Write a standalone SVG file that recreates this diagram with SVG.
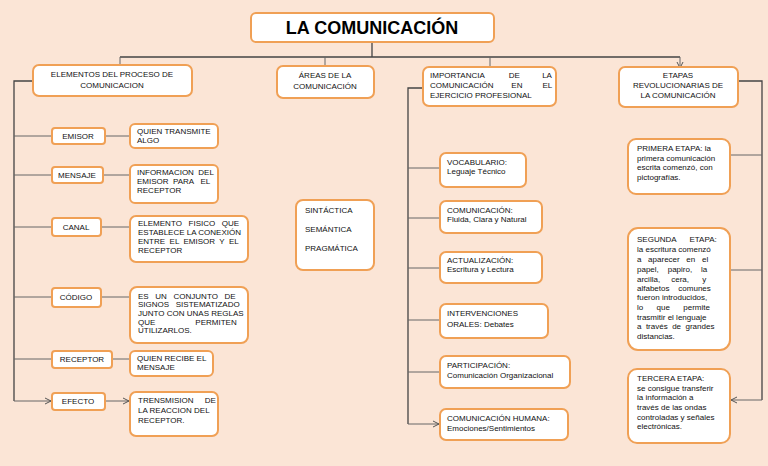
<svg xmlns="http://www.w3.org/2000/svg" width="768" height="466" viewBox="0 0 768 466">
<defs>
<marker id="a" markerWidth="8" markerHeight="8" refX="7" refY="4" orient="auto" markerUnits="userSpaceOnUse"><path d="M1,1 L7,4 L1,7" fill="none" stroke="#555" stroke-width="1"/></marker>
<style>
.b{fill:#fff;stroke:#f0a055;stroke-width:2}
.t{font-family:"Liberation Sans",Arial,sans-serif;font-size:8px;fill:#111;white-space:pre}
.c{stroke:#444;stroke-width:1.3;fill:none}
.ar{stroke:#666;stroke-width:1;fill:none;marker-end:url(#a)}
</style>
</defs>
<rect width="768" height="466" fill="#fbe5d6"/>
<g id="connectors">
<path class="c" d="M372,42V57M120,57H680"/>
<path class="ar" d="M120,57V66M325,57V67M490,57V68M680,57V68"/>
<path class="c" d="M33,81H14V401"/>
<path class="ar" d="M14,136H51M14,175H51M14,227H51M14,297H51M14,359H51M14,401H51"/>
<path class="ar" d="M105,136H129M103,175H129M101,227H129M101,297H129M112,359H129M105,401H129"/>
<path class="c" d="M423,88H408V424"/>
<path class="ar" d="M408,168H439M408,218H439M408,268H439M408,320H439M408,372H439M408,424H439"/>
<path class="c" d="M738,81H762V400"/>
<path class="ar" d="M762,155H731M762,270H731M762,400H731"/>
</g>
<g id="title"><rect class="b" x="251" y="13" width="243" height="29" rx="5"/><text x="372" y="34" text-anchor="middle" font-family="Liberation Sans,Arial,sans-serif" font-weight="bold" font-size="18">LA COMUNICACIÓN</text></g>
<g id="h1"><rect class="b" x="33" y="65" width="159" height="31" rx="6"/><text class="t" text-anchor="middle"><tspan x="112" y="77">ELEMENTOS DEL PROCESO DE</tspan><tspan x="112" y="88">COMUNICACION</tspan></text></g>
<g id="h2"><rect class="b" x="277" y="66" width="97" height="32" rx="6"/><text class="t" text-anchor="middle"><tspan x="325" y="78">ÁREAS DE LA</tspan><tspan x="325" y="89">COMUNICACIÓN</tspan></text></g>
<g id="h3"><rect class="b" x="423" y="67" width="133" height="39" rx="6"/><text class="t" xml:space="preserve"><tspan x="430" y="78">IMPORTANCIA           DE          LA</tspan><tspan x="430" y="88">COMUNICACIÓN        EN         EL</tspan><tspan x="430" y="98">EJERCICIO PROFESIONAL</tspan></text></g>
<g id="h4"><rect class="b" x="619" y="67" width="119" height="40" rx="6"/><text class="t" text-anchor="middle"><tspan x="678" y="78">ETAPAS</tspan><tspan x="678" y="88">REVOLUCIONARIAS DE</tspan><tspan x="678" y="98">LA COMUNICACIÓN</tspan></text></g>
<g id="emisor"><rect class="b" x="52" y="128" width="53" height="16" rx="3"/><text class="t" x="78" y="139" text-anchor="middle">EMISOR</text></g>
<g id="mensaje"><rect class="b" x="52" y="167" width="51" height="16" rx="3"/><text class="t" x="77" y="178" text-anchor="middle">MENSAJE</text></g>
<g id="canal"><rect class="b" x="52" y="218" width="49" height="18" rx="3"/><text class="t" x="76" y="230" text-anchor="middle">CANAL</text></g>
<g id="codigo"><rect class="b" x="52" y="288" width="49" height="19" rx="3"/><text class="t" x="76" y="300" text-anchor="middle">CÓDIGO</text></g>
<g id="receptor"><rect class="b" x="52" y="351" width="60" height="17" rx="3"/><text class="t" x="82" y="362" text-anchor="middle">RECEPTOR</text></g>
<g id="efecto"><rect class="b" x="52" y="393" width="53" height="17" rx="3"/><text class="t" x="78" y="404" text-anchor="middle">EFECTO</text></g>
<g id="d1"><rect class="b" x="130" y="124" width="88" height="24" rx="5"/><text class="t"><tspan x="137" y="134">QUIEN TRANSMITE</tspan><tspan x="137" y="143">ALGO</tspan></text></g>
<g id="d2"><rect class="b" x="130" y="165" width="88" height="38" rx="5"/><text class="t" xml:space="preserve"><tspan x="137" y="175">INFORMACION  DEL</tspan><tspan x="137" y="184">EMISOR  PARA   EL</tspan><tspan x="137" y="193">RECEPTOR</tspan></text></g>
<g id="d3"><rect class="b" x="130" y="216" width="118" height="46" rx="6"/><text class="t" xml:space="preserve"><tspan x="138" y="226">ELEMENTO   FISICO   QUE</tspan><tspan x="138" y="235">ESTABLECE LA CONEXIÓN</tspan><tspan x="138" y="244">ENTRE  EL  EMISOR  Y  EL</tspan><tspan x="138" y="253">RECEPTOR</tspan></text></g>
<g id="d4"><rect class="b" x="130" y="287" width="118" height="56" rx="7"/><text class="t" xml:space="preserve"><tspan x="138" y="299">ES   UN   CONJUNTO   DE</tspan><tspan x="138" y="307">SIGNOS   SISTEMATIZADO</tspan><tspan x="138" y="316">JUNTO CON UNAS REGLAS</tspan><tspan x="138" y="325">QUE                  PERMITEN</tspan><tspan x="138" y="333">UTILIZARLOS.</tspan></text></g>
<g id="d5"><rect class="b" x="130" y="351" width="83" height="25" rx="5"/><text class="t"><tspan x="137" y="361">QUIEN RECIBE EL</tspan><tspan x="137" y="370">MENSAJE</tspan></text></g>
<g id="d6"><rect class="b" x="130" y="392" width="88" height="44" rx="6"/><text class="t" xml:space="preserve"><tspan x="138" y="403">TRENSMISION     DE</tspan><tspan x="138" y="413">LA REACCION DEL</tspan><tspan x="138" y="423">RECEPTOR.</tspan></text></g>
<g id="areas"><rect class="b" x="296" y="200" width="78" height="70" rx="7"/><text class="t"><tspan x="305" y="213">SINTÁCTICA</tspan><tspan x="305" y="232">SEMÁNTICA</tspan><tspan x="305" y="251">PRAGMÁTICA</tspan></text></g>
<g id="i1"><rect class="b" x="440" y="153" width="86" height="34" rx="6"/><text class="t"><tspan x="447" y="165">VOCABULARIO:</tspan><tspan x="447" y="174">Leguaje Técnico</tspan></text></g>
<g id="i2"><rect class="b" x="440" y="201" width="102" height="32" rx="6"/><text class="t"><tspan x="447" y="213">COMUNICACIÓN:</tspan><tspan x="447" y="222">Fluida, Clara y Natural</tspan></text></g>
<g id="i3"><rect class="b" x="440" y="252" width="102" height="31" rx="6"/><text class="t"><tspan x="447" y="263">ACTUALIZACIÓN:</tspan><tspan x="447" y="272">Escritura y Lectura</tspan></text></g>
<g id="i4"><rect class="b" x="440" y="304" width="108" height="34" rx="6"/><text class="t"><tspan x="447" y="316">INTERVENCIONES</tspan><tspan x="447" y="327">ORALES: Debates</tspan></text></g>
<g id="i5"><rect class="b" x="440" y="356" width="130" height="32" rx="6"/><text class="t"><tspan x="447" y="368">PARTICIPACIÓN:</tspan><tspan x="447" y="378">Comunicación Organizacional</tspan></text></g>
<g id="i6"><rect class="b" x="440" y="409" width="128" height="31" rx="6"/><text class="t"><tspan x="447" y="421">COMUNICACIÓN HUMANA:</tspan><tspan x="447" y="431">Emociones/Sentimientos</tspan></text></g>
<g id="e1"><rect class="b" x="628" y="139" width="102" height="55" rx="8"/><text class="t"><tspan x="637" y="151">PRIMERA ETAPA: la</tspan><tspan x="637" y="161">primera comunicación</tspan><tspan x="637" y="170">escrita comenzó, con</tspan><tspan x="637" y="180">pictografías.</tspan></text></g>
<g id="e2"><rect class="b" x="628" y="228" width="102" height="122" rx="10"/><text class="t" xml:space="preserve"><tspan x="637" y="242">SEGUNDA      ETAPA:</tspan><tspan x="637" y="252">la escritura comenzó</tspan><tspan x="637" y="262">a   aparecer   en   el</tspan><tspan x="637" y="272">papel,    papiro,    la</tspan><tspan x="637" y="282">arcilla,     cera,      y</tspan><tspan x="637" y="291">alfabetos    comunes</tspan><tspan x="637" y="300">fueron introducidos,</tspan><tspan x="637" y="310">lo      que      permite</tspan><tspan x="637" y="320">trasmitir el lenguaje</tspan><tspan x="637" y="329">a  través  de  grandes</tspan><tspan x="637" y="339">distancias.</tspan></text></g>
<g id="e3"><rect class="b" x="628" y="369" width="102" height="74" rx="9"/><text class="t"><tspan x="637" y="381">TERCERA ETAPA:</tspan><tspan x="637" y="391">se consigue transferir</tspan><tspan x="637" y="400">la información a</tspan><tspan x="637" y="410">través de las ondas</tspan><tspan x="637" y="420">controladas y señales</tspan><tspan x="637" y="429">electrónicas.</tspan></text></g>
</svg>
